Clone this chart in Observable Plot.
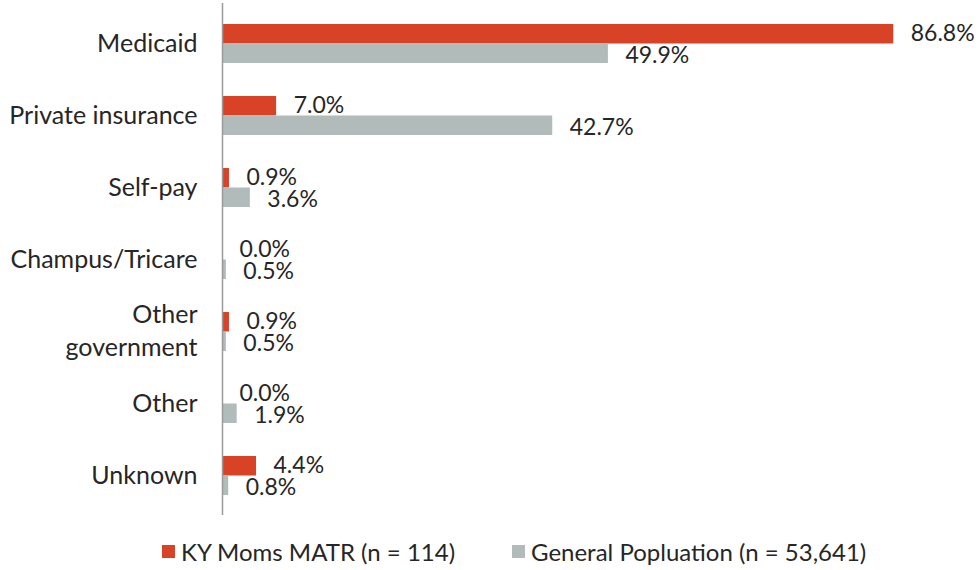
<!DOCTYPE html>
<html>
<head>
<meta charset="utf-8">
<script src="https://cdn.jsdelivr.net/npm/d3@7"></script>
<script src="https://cdn.jsdelivr.net/npm/@observablehq/plot@0.6"></script>
<style>
  body { margin: 0; background: #fff; font-family: Lato, "Open Sans", sans-serif; }
  #chart { width: 979px; }
  #chart svg { display: block; }
  .legend { position: relative; height: 50px; font-size: 24px; color: #262626; }
  .legend .item { position: absolute; top: 17px; display: flex; align-items: center; white-space: nowrap; }
  .legend .sw { width: 13px; height: 13px; margin-right: 6px; }
</style>
</head>
<body>
<div id="chart"></div>
<script>
const categories = ["Medicaid", "Private insurance", "Self-pay", "Champus/Tricare", "Other government", "Other", "Unknown"];
const categoryLabels = ["Medicaid", "Private insurance", "Self-pay", "Champus/Tricare", "Other\ngovernment", "Other", "Unknown"];
const kyMoms = [86.8, 7.0, 0.9, 0.0, 0.9, 0.0, 4.4];
const generalPop = [49.9, 42.7, 3.6, 0.5, 0.5, 1.9, 0.8];
const seriesNames = ["KY Moms MATR (n = 114)", "General Popluation (n = 53,641)"];
const colors = ["#D84227", "#B1BBBA"];

const red = categories.map((c, i) => ({category: c, value: kyMoms[i]}));
const gray = categories.map((c, i) => ({category: c, value: generalPop[i]}));
const labelMap = new Map(categories.map((c, i) => [c, categoryLabels[i]]));

const half = 19.5;
const plot = Plot.plot({
  width: 979,
  height: 520,
  marginLeft: 222,
  marginRight: 61,
  marginTop: 3,
  marginBottom: 5,
  style: {fontFamily: "Lato, 'Open Sans', sans-serif", color: "#262626", background: "#fff"},
  x: {domain: [0, 90], axis: null},
  y: {domain: categories, paddingInner: 0.462, paddingOuter: 0.25, label: null},
  marks: [
    Plot.barX(red, {x: "value", y: "category", fill: colors[0], insetBottom: half, insetTop: 0}),
    Plot.barX(gray, {x: "value", y: "category", fill: colors[1], insetTop: half, insetBottom: 0}),
    Plot.text(red, {x: "value", y: "category", text: d => d.value.toFixed(1) + "%", textAnchor: "start", dx: 17, dy: -10, fontSize: 23, fill: "#262626"}),
    Plot.text(gray, {x: "value", y: "category", text: d => d.value.toFixed(1) + "%", textAnchor: "start", dx: 17, dy: 12, fontSize: 23, fill: "#262626"}),
    Plot.ruleX([0], {stroke: "#9a9a9a", strokeWidth: 1.5}),
    Plot.axisY({tickSize: 0, tickPadding: 25, dy: -3, fontSize: 25, lineHeight: 1.32, tickFormat: d => labelMap.get(d), label: null, fill: "#262626"})
  ]
});
document.getElementById("chart").appendChild(plot);

const legend = document.createElement("div");
legend.className = "legend";
const lefts = [162, 512];
seriesNames.forEach((name, i) => {
  const item = document.createElement("div");
  item.className = "item";
  item.style.left = lefts[i] + "px";
  const sw = document.createElement("span");
  sw.className = "sw";
  sw.style.background = colors[i];
  const t = document.createElement("span");
  t.textContent = name;
  item.appendChild(sw);
  item.appendChild(t);
  legend.appendChild(item);
});
document.getElementById("chart").appendChild(legend);
</script>
</body>
</html>
